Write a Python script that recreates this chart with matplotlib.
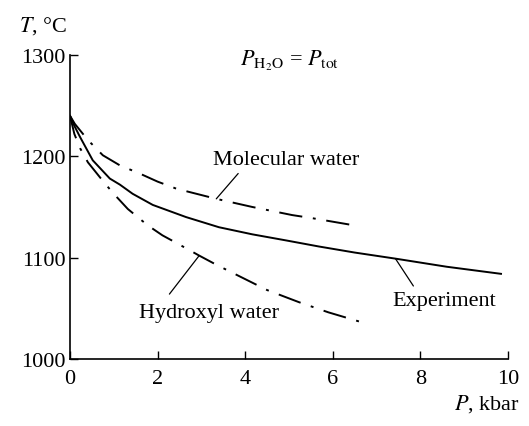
import matplotlib.pyplot as plt

# values
exp_p = [0.0, 0.1, 0.23, 0.52, 0.91, 1.14, 1.43, 1.89, 2.65, 3.4, 4.16,
         4.93, 5.68, 6.5, 7.43, 8.6, 9.84]
exp_t = [1240, 1230, 1219, 1196, 1178, 1172, 1163, 1152, 1140, 1130, 1123,
         1117, 1111, 1105, 1099, 1091, 1084]

mol_p = [0.0, 0.11, 0.41, 0.75, 1.14, 1.59, 2.0, 2.43, 3.34, 4.16, 5.07,
         5.52, 6.6]
mol_t = [1240, 1232, 1216, 1201, 1191, 1183, 1175, 1168, 1158, 1150, 1142,
         1139, 1131]

hyd_p = [0.0, 0.1, 0.23, 0.41, 0.8, 1.02, 1.32, 1.77, 2.11, 2.45, 2.95,
         3.34, 4.5, 5.23, 5.9, 6.6]
hyd_t = [1240, 1222, 1208, 1194, 1173, 1162, 1148, 1132, 1122, 1114, 1102,
         1093, 1068, 1056, 1046, 1037]

x_ticks = [0, 2, 4, 6, 8, 10]
y_ticks = [1000, 1100, 1200, 1300]

plt.rcParams['font.family'] = ['Liberation Serif', 'DejaVu Serif']
plt.rcParams['mathtext.fontset'] = 'stix'

fig = plt.figure(figsize=(5.29, 4.27), dpi=100)
ax = fig.add_axes([0.1323, 0.157, 0.828, 0.712])

dashdot = (0, (12, 5.5, 1.5, 5.5))
ax.plot(exp_p, exp_t, color='black', lw=1.4)
ax.plot(mol_p, mol_t, color='black', lw=1.4, linestyle=dashdot)
ax.plot(hyd_p, hyd_t, color='black', lw=1.4, linestyle=dashdot)

ax.set_xlim(0, 10)
ax.set_ylim(1000, 1300)
ax.set_xticks(x_ticks)
ax.set_yticks(y_ticks)
ax.tick_params(direction='in', length=6, width=1, labelsize=16)
ax.tick_params(axis='x', pad=7)
ax.tick_params(axis='y', pad=3)
ax.spines['top'].set_visible(False)
ax.spines['right'].set_visible(False)
ax.spines['left'].set_linewidth(1.2)
ax.spines['bottom'].set_linewidth(1.2)

# labels with leader lines
line_kw = dict(arrowstyle='-', color='black', lw=0.9, shrinkA=0, shrinkB=0)
ax.annotate('', xy=(3.34, 1158), xytext=(3.84, 1183), arrowprops=line_kw)
ax.text(4.93, 1192, 'Molecular water', ha='center', va='baseline', fontsize=16)

ax.annotate('', xy=(2.95, 1102), xytext=(2.27, 1064), arrowprops=line_kw)
ax.text(3.18, 1041, 'Hydroxyl water', ha='center', va='baseline', fontsize=16)

ax.annotate('', xy=(7.43, 1099), xytext=(7.84, 1072), arrowprops=line_kw)
ax.text(8.54, 1053, 'Experiment', ha='center', va='baseline', fontsize=16)

ax.text(5.02, 1290, r'$P_{\mathrm{H_2O}}$ = $P_{\mathrm{tot}}$',
        ha='center', va='baseline', fontsize=16)

fig.text(0.036, 0.925, r'$T$, °C', ha='left', va='baseline', fontsize=16)
fig.text(0.983, 0.04, r'$P$, kbar', ha='right', va='baseline', fontsize=16)

fig.savefig('out.png', dpi=100)
